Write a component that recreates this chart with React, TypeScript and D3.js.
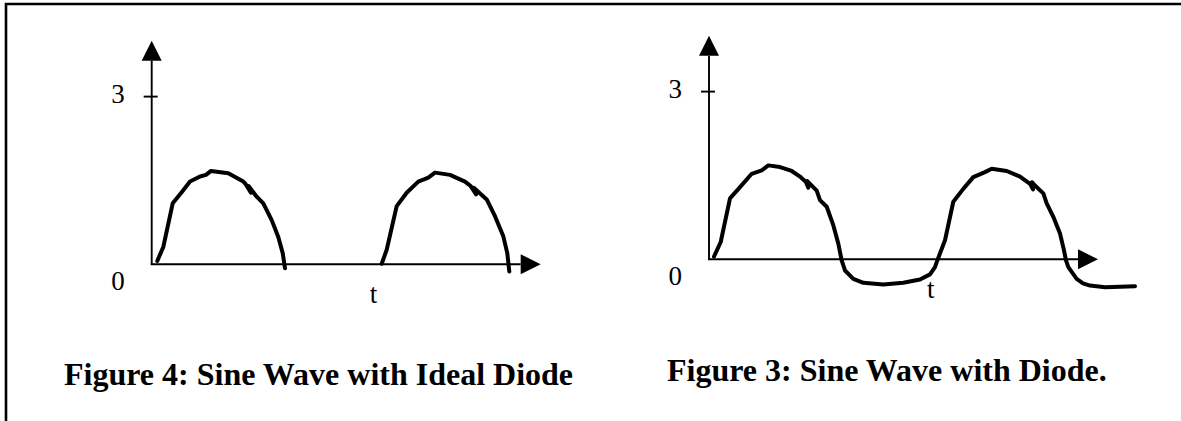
import React from 'react';
import * as d3 from 'd3';

// time axis runs 0..100 (arrow tip), voltage axis 0..4 (arrow tip)
const xAxisEnd = 100;
const yAxisEnd = 4;
const yTickLabels = [0, 3];
const tLabel = 't';
const tLabelAt = 57;

// half-wave output of an ideal diode: two positive humps, zero in between
const idealHump1: [number, number][] = [
  [1.44, 0.06], [2.98, 0.31], [5.4, 1.09], [7.71, 1.29], [9.85, 1.48], [12.42, 1.57],
  [13.96, 1.6], [15.24, 1.67], [19.69, 1.63], [23.55, 1.48], [24.1, 1.44], [25.5, 1.28],
  [24.9, 1.4], [26.99, 1.21], [28.69, 1.09], [30.85, 0.79], [32.54, 0.49], [33.68, 0.2],
  [34.27, -0.07],
];
const idealHump2: [number, number][] = [
  [59.13, 0.01], [60.41, 0.26], [62.98, 1.04], [65.55, 1.28], [68.53, 1.48], [71.11, 1.55],
  [72.83, 1.64], [76.68, 1.6], [80.54, 1.48], [82.0, 1.4], [83.4, 1.25], [82.8, 1.37],
  [86.12, 1.16], [88.25, 0.86], [90.39, 0.5], [91.41, 0.2], [91.93, -0.13],
];

// real diode: small negative swing between the humps
const diodeWave: [number, number][] = [
  [1.29, 0.05], [3.01, 0.31], [5.4, 1.09], [7.97, 1.29], [10.98, 1.53], [13.55, 1.59],
  [15.24, 1.68], [18.25, 1.65], [21.26, 1.58], [23.39, 1.48], [24.94, 1.38], [25.53, 1.28],
  [25.27, 1.4], [27.69, 1.23], [28.53, 1.06], [30.26, 0.94], [31.95, 0.61], [33.24, 0.28],
  [34.11, -0.02], [34.96, -0.2], [37.1, -0.35], [39.67, -0.42], [44.81, -0.45], [49.95, -0.42],
  [54.24, -0.36], [56.81, -0.27], [58.1, -0.14], [58.69, -0.02], [60.67, 0.34], [62.8, 1.03],
  [65.37, 1.26], [67.94, 1.47], [70.95, 1.56], [72.67, 1.62], [76.53, 1.58], [79.95, 1.48],
  [82.52, 1.35], [83.29, 1.25], [83.03, 1.38], [83.8, 1.32], [85.94, 1.18], [86.81, 1.0],
  [88.51, 0.76], [90.23, 0.46], [91.26, 0.16], [91.77, -0.02], [92.37, -0.14], [94.52, -0.35],
  [96.14, -0.43], [97.94, -0.47], [101.8, -0.5], [105.66, -0.49], [109.51, -0.48],
];

const leftTitle = 'Figure 4: Sine Wave with Ideal Diode';
const rightTitle = 'Figure 3: Sine Wave with Diode.';

const FONT = "'Times New Roman', 'Liberation Serif', serif";

type PanelProps = {
  ox: number;
  oy: number;
  series: [number, number][][];
  title: string;
  titleX: number;
  titleY: number;
};

function Panel({ox, oy, series, title, titleX, titleY}: PanelProps) {
  const x = d3.scaleLinear().domain([0, xAxisEnd]).range([ox, ox + 389]);
  const y = d3.scaleLinear().domain([0, 3]).range([oy, oy - 167.7]);
  const line = d3.line<[number, number]>().x(d => x(d[0])).y(d => y(d[1]));

  const tipY = y(yAxisEnd);
  const tipX = x(xAxisEnd);
  const head = 20;
  const half = 10;

  return (
    <g>
      {/* axes with arrow heads */}
      <line x1={ox} y1={oy} x2={ox} y2={tipY + head} stroke="#000" strokeWidth={1.9}/>
      <polygon points={`${ox},${tipY} ${ox - half},${tipY + head} ${ox + half},${tipY + head}`} fill="#000"/>
      <line x1={ox - 1} y1={oy} x2={tipX - head} y2={oy} stroke="#000" strokeWidth={1.9}/>
      <polygon points={`${tipX},${oy} ${tipX - head},${oy - half} ${tipX - head},${oy + half}`} fill="#000"/>

      {yTickLabels.map(v => (
        <g key={v}>
          {v > 0 && <line x1={ox - 8} x2={ox + 6} y1={y(v)} y2={y(v)} stroke="#000" strokeWidth={1.9}/>}
          <text x={ox - 27} y={v > 0 ? y(v) + 6 : y(v) + 26} textAnchor="end"
                fontFamily={FONT} fontSize={27}>{v}</text>
        </g>
      ))}
      <text x={x(tLabelAt)} y={oy + 39} textAnchor="middle" fontFamily={FONT} fontSize={27}>{tLabel}</text>

      {series.map((s, i) => (
        <path key={i} d={line(s) ?? ''} fill="none" stroke="#000" strokeWidth={4}
              strokeLinejoin="round" strokeLinecap="round"/>
      ))}

      <text x={titleX} y={titleY} fontFamily={FONT} fontSize={32} fontWeight="bold">{title}</text>
    </g>
  );
}

export default function App() {
  return (
    <svg width={1181} height={421} style={{position: 'absolute', left: 0, top: 0, background: '#fff'}}>
      <rect x={0} y={0} width={1181} height={421} fill="#fff"/>
      {/* frame: left and top edges */}
      <path d="M6,421 L6,4 L1181,4" fill="none" stroke="#000" strokeWidth={2.6}/>
      <Panel ox={151.7} oy={264.3} series={[idealHump1, idealHump2]}
             title={leftTitle} titleX={64} titleY={385}/>
      <Panel ox={709} oy={259.3} series={[diodeWave]}
             title={rightTitle} titleX={667} titleY={381}/>
    </svg>
  );
}
